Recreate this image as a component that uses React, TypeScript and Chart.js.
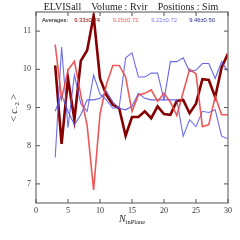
import React, { useEffect, useRef } from "react";
import { Chart, registerables } from "chart.js";
Chart.register(...registerables);

const nInPlane = [3, 4, 5, 6, 7, 8, 9, 10, 11, 12, 13, 14, 15, 16, 17, 18, 19, 20, 21, 22, 23, 24, 25, 26, 27, 28, 29, 30];
const darkRedVals = [10.1, 8.05, 9.76, 8.68, 10.22, 10.5, 11.4, 9.76, 9.33, 9.07, 8.98, 8.26, 8.75, 8.75, 8.9, 8.72, 9.03, 8.83, 8.81, 9.17, 9.2, 8.85, 9.1, 9.74, 9.72, 9.27, 10.05, 10.41];
const redVals = [10.65, 9.24, 9.98, 10.21, 9.33, 8.52, 6.84, 8.83, 9.6, 10.1, 10.1, 9.8, 8.9, 9.33, 9.37, 9.46, 9.16, 9.37, 9.14, 8.79, 9.4, 10.0, 9.88, 8.5, 8.55, 9.29, 8.81, 8.81];
const lightBlueVals = [7.69, 10.58, 8.47, 9.85, 9.1, 8.9, 9.85, 9.35, 9.2, 8.98, 9.0, 10.3, 10.43, 9.8, 9.8, 9.9, 9.9, 9.2, 9.2, 9.2, 8.25, 8.68, 8.5, 8.9, 8.87, 8.94, 8.25, 8.18];
const darkBlueVals = [8.9, 9.33, 8.9, 8.55, 8.81, 9.2, 9.2, 9.24, 9.42, 9.15, 8.98, 8.94, 9.03, 9.37, 9.24, 9.2, 9.2, 9.2, 10.2, 10.2, 10.3, 9.94, 9.98, 10.15, 10.15, 9.76, 10.2, 9.94];
const xTicks = [0, 5, 10, 15, 20, 25, 30];
const yTicks = [7, 8, 9, 10, 11];
const averageLabels = ["9.33±0.74", "9.25±0.72", "9.22±0.72", "9.46±0.50"];
const averageColors = ["#8b0000", "#f06060", "#7a7af5", "#1c1c90"];
const titleText = "ELVISall    Volume : Rvir    Positions : Sim";

export default function App() {
  const ref = useRef<HTMLCanvasElement>(null);
  useEffect(() => {
    document.body.style.margin = "0";
    const canvas = ref.current;
    if (!canvas) return;
    const pts = (vals: number[]) => nInPlane.map((n, i) => ({ x: n, y: vals[i] }));

    const textPlugin = {
      id: "texts",
      beforeDatasetsDraw(chart: any) {
        const ctx = chart.ctx;
        ctx.save();
        ctx.font = "5.8px 'Liberation Sans'";
        ctx.textBaseline = "middle";
        ctx.textAlign = "center";
        ctx.fillStyle = "#000";
        ctx.fillText("Averages:", 55, 20);
        const centers = [87, 125.5, 164, 202];
        averageLabels.forEach((t, i) => {
          ctx.fillStyle = averageColors[i];
          ctx.fillText(t, centers[i], 20);
        });
        ctx.restore();
      },
      afterDraw(chart: any) {
        const ctx = chart.ctx;
        const a = chart.chartArea;
        const xs = chart.scales.x;
        const ys = chart.scales.y;
        ctx.save();
        ctx.strokeStyle = "#8c8c8c";
        ctx.lineWidth = 1.5;
        ctx.strokeRect(a.left, a.top, a.right - a.left, a.bottom - a.top);
        ctx.lineWidth = 1;
        ctx.strokeStyle = "#555";
        ctx.beginPath();
        xTicks.forEach((v) => {
          const px = xs.getPixelForValue(v);
          ctx.moveTo(px, a.bottom);
          ctx.lineTo(px, a.bottom - 4);
          ctx.moveTo(px, a.top);
          ctx.lineTo(px, a.top + 4);
        });
        yTicks.forEach((v) => {
          const py = ys.getPixelForValue(v);
          ctx.moveTo(a.left, py);
          ctx.lineTo(a.left + 4, py);
          ctx.moveTo(a.right, py);
          ctx.lineTo(a.right - 4, py);
        });
        ctx.stroke();
        ctx.fillStyle = "#222";
        ctx.font = "10px 'Liberation Serif'";
        ctx.textAlign = "center";
        ctx.textBaseline = "alphabetic";
        ctx.fillText(titleText, 131, 9.5);
        ctx.textAlign = "left";
        ctx.font = "italic 10px 'Liberation Serif'";
        const nW = ctx.measureText("N").width;
        ctx.font = "6.5px 'Liberation Serif'";
        const subW = ctx.measureText("inPlane").width;
        const startX = 132 - (nW + subW) / 2;
        ctx.font = "italic 10px 'Liberation Serif'";
        ctx.fillText("N", startX, 222);
        ctx.font = "6.5px 'Liberation Serif'";
        ctx.fillText("inPlane", startX + nW, 224);
        ctx.translate(17, 108);
        ctx.rotate(-Math.PI / 2);
        const parts: [string, string, number][] = [
          ["< ", "10px 'Liberation Serif'", 0],
          ["c", "italic 10px 'Liberation Serif'", 0],
          ["−2", "6.5px 'Liberation Serif'", 2],
          [" >", "10px 'Liberation Serif'", 0],
        ];
        let total = 0;
        parts.forEach(([t, f]) => { ctx.font = f; total += ctx.measureText(t).width; });
        let cx = -total / 2;
        parts.forEach(([t, f, dy]) => {
          ctx.font = f;
          ctx.fillText(t, cx, dy);
          cx += ctx.measureText(t).width;
        });
        ctx.restore();
      },
    };

    const chart = new Chart(canvas, {
      type: "line",
      data: {
        datasets: [
          { data: pts(redVals), borderColor: "rgba(235,70,70,0.9)", borderWidth: 1.6, pointRadius: 0, fill: false, tension: 0 },
          { data: pts(lightBlueVals), borderColor: "rgba(85,85,235,0.85)", borderWidth: 1.1, pointRadius: 0, fill: false, tension: 0 },
          { data: pts(darkBlueVals), borderColor: "rgba(75,75,220,0.85)", borderWidth: 1.1, pointRadius: 0, fill: false, tension: 0 },
          { data: pts(darkRedVals), borderColor: "#850000", borderWidth: 2.6, pointRadius: 0, fill: false, tension: 0 },
        ],
      },
      options: {
        responsive: false,
        animation: false,
        devicePixelRatio: 1,
        layout: { padding: { top: 12, right: 12, left: 0, bottom: 0 } },
        plugins: { legend: { display: false }, tooltip: { enabled: false }, title: { display: false } },
        scales: {
          x: {
            type: "linear",
            min: 0,
            max: 30,
            afterBuildTicks: (s: any) => { s.ticks = xTicks.map((v) => ({ value: v })); },
            afterFit: (s: any) => { s.height = 37; },
            grid: { display: false, drawTicks: false },
            border: { display: false },
            ticks: { font: { family: "'Liberation Serif'", size: 8 }, color: "#333", padding: 3, maxRotation: 0 },
          },
          y: {
            type: "linear",
            min: 6.5,
            max: 11.5,
            afterBuildTicks: (s: any) => { s.ticks = yTicks.map((v) => ({ value: v })); },
            afterFit: (s: any) => { s.width = 36; },
            grid: { display: false, drawTicks: false },
            border: { display: false },
            ticks: { font: { family: "'Liberation Serif'", size: 8 }, color: "#333", padding: 5 },
          },
        },
      },
      plugins: [textPlugin],
    } as any);
    return () => chart.destroy();
  }, []);
  return <canvas ref={ref} width={240} height={240} style={{ display: "block", width: 240, height: 240 }} />;
}
